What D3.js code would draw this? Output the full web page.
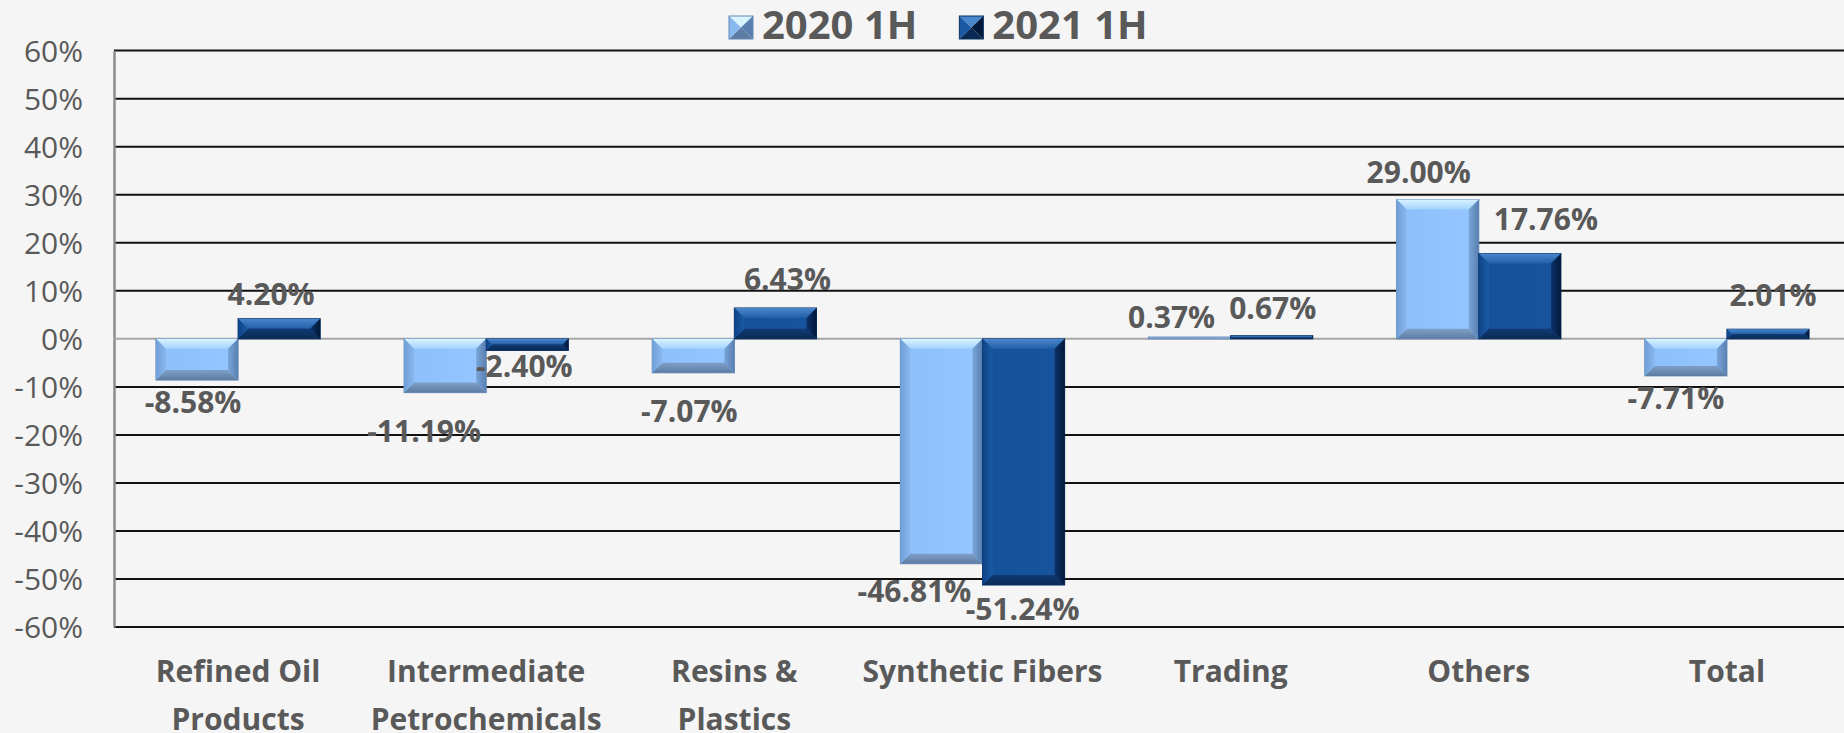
<!DOCTYPE html>
<html>
<head>
<meta charset="utf-8">
<script src="https://cdn.jsdelivr.net/npm/d3@7"></script>
<style>
  body { margin: 0; background: #f5f5f5; overflow: hidden; }
  svg { display: block; }
  text { font-family: "Open Sans", "Noto Sans", sans-serif; fill: #595959; }
</style>
</head>
<body>
<script>
// data
var categories = ["Refined Oil\nProducts", "Intermediate\nPetrochemicals", "Resins &\nPlastics",
                  "Synthetic Fibers", "Trading", "Others", "Total"];
var seriesNames = ["2020 1H", "2021 1H"];
var values2020 = [-8.58, -11.19, -7.07, -46.81, 0.37, 29.00, -7.71];
var values2021 = [4.20, -2.40, 6.43, -51.24, 0.67, 17.76, 2.01];
var yTicks = [-60, -50, -40, -30, -20, -10, 0, 10, 20, 30, 40, 50, 60];

// label nudges (pixels) so the labels sit where the original put them
var nudge2020 = [[-4, 0], [-21, 16], [-4, 16], [-27, 5], [-18, 5], [-19, -3], [-10, 0]];
var nudge2021 = [[-8, 0], [-3, -6], [12, -4], [-1, 2], [1, -3], [26, -10], [5, -9]];

var width = 1844, height = 733;
var plotLeft = 114, plotRight = 1851, plotTop = 50.6, plotBottom = 627.1;

var svg = d3.select("body").append("svg")
  .attr("width", width)
  .attr("height", height);

var defs = svg.append("defs");

// bevel colour sets for the two series
var looks = [
  {face: ["#8cbffb", "#95c6ff"], top: ["#d8f4ff", "#a3d2ff"], bottom: ["#7f9fc6", "#5c7ca4"],
   left: ["#6f9fd6", "#88b8ee"], right: ["#7aa5d8", "#587fb0"], stroke: "#6488b6"},
  {face: ["#15509a", "#18549e"], top: ["#4a86cc", "#225fa8"], bottom: ["#0f3a72", "#0a2a55"],
   left: ["#0f4388", "#1a5aa4"], right: ["#0d336a", "#03183a"], stroke: "#0b3265"}
];

function grad(id, c, vertical) {
  var g = defs.append("linearGradient").attr("id", id)
    .attr("x1", 0).attr("y1", 0)
    .attr("x2", vertical ? 0 : 1).attr("y2", vertical ? 1 : 0);
  g.append("stop").attr("offset", "0%").attr("stop-color", c[0]);
  g.append("stop").attr("offset", "100%").attr("stop-color", c[1]);
}
looks.forEach(function(l, i) {
  grad("face" + i, l.face, false);
  grad("top" + i, l.top, true);
  grad("bottom" + i, l.bottom, true);
  grad("left" + i, l.left, false);
  grad("right" + i, l.right, false);
});

var x0 = d3.scaleBand()
  .domain(d3.range(categories.length))
  .range([plotLeft, plotRight])
  .paddingInner(0.338)
  .paddingOuter(0.169);

var x1 = d3.scaleBand()
  .domain([0, 1])
  .range([0, x0.bandwidth()]);

var y = d3.scaleLinear()
  .domain([-60, 60])
  .range([plotBottom, plotTop]);

// gridlines
svg.append("g").selectAll("line")
  .data(yTicks.filter(function(d) { return d != 0; }))
  .enter().append("line")
  .attr("x1", plotLeft).attr("x2", plotRight)
  .attr("y1", function(d) { return y(d); })
  .attr("y2", function(d) { return y(d); })
  .style("stroke", "#111")
  .style("stroke-width", 2);

// y axis
var yAxis = d3.axisLeft(y)
  .tickValues(yTicks)
  .tickSize(0)
  .tickPadding(30)
  .tickFormat(function(d) { return d + "%"; });

var gy = svg.append("g")
  .attr("transform", "translate(" + plotLeft + ",0)")
  .call(yAxis);
gy.select(".domain").style("stroke", "#8c8c8c").style("stroke-width", 2.5);
gy.selectAll("text")
  .style("font-size", "30px")
  .style("fill", "#595959")
  .attr("x", -31)
  .attr("dy", "0.35em");

// zero line
svg.append("line")
  .attr("x1", plotLeft).attr("x2", plotRight)
  .attr("y1", y(0)).attr("y2", y(0))
  .style("stroke", "#a6a6a6")
  .style("stroke-width", 2);

function bevelBar(g, x, yy, w, h, s, bev) {
  var b = Math.min(bev, w / 2, h / 2);
  var look = looks[s];
  g.append("rect")
    .attr("x", x).attr("y", yy).attr("width", w).attr("height", h)
    .style("fill", "url(#face" + s + ")")
    .style("stroke", look.stroke).style("stroke-width", 1);
  if (b < 1.5) return;
  var parts = {
    top: [[x, yy], [x + w, yy], [x + w - b, yy + b], [x + b, yy + b]],
    bottom: [[x, yy + h], [x + w, yy + h], [x + w - b, yy + h - b], [x + b, yy + h - b]],
    left: [[x, yy], [x + b, yy + b], [x + b, yy + h - b], [x, yy + h]],
    right: [[x + w, yy], [x + w - b, yy + b], [x + w - b, yy + h - b], [x + w, yy + h]]
  };
  Object.keys(parts).forEach(function(k) {
    g.append("polygon")
      .attr("points", parts[k].map(function(p) { return p.join(","); }).join(" "))
      .style("fill", "url(#" + k + s + ")");
  });
}

var allSeries = [values2020, values2021];
var nudges = [nudge2020, nudge2021];
var barLayer = svg.append("g");
var labelLayer = svg.append("g");

allSeries.forEach(function(vals, s) {
  vals.forEach(function(v, i) {
    var bx = x0(i) + x1(s);
    var bw = x1.bandwidth();
    var top = y(Math.max(v, 0)), bot = y(Math.min(v, 0));
    bevelBar(barLayer.append("g"), bx, top, bw, bot - top, s, 10);

    var ly = v >= 0 ? top - 14 : bot + 33;
    labelLayer.append("text")
      .attr("x", bx + bw / 2 + nudges[s][i][0])
      .attr("y", ly + nudges[s][i][1])
      .attr("text-anchor", "middle")
      .style("font-size", "30px")
      .style("font-weight", "bold")
      .text(v.toFixed(2) + "%");
  });
});

// category labels
var catG = svg.append("g");
categories.forEach(function(c, i) {
  var t = catG.append("text")
    .attr("x", x0(i) + x0.bandwidth() / 2)
    .attr("y", 682)
    .attr("text-anchor", "middle")
    .style("font-size", "30px")
    .style("font-weight", "bold");
  c.split("\n").forEach(function(line, j) {
    t.append("tspan")
      .attr("x", x0(i) + x0.bandwidth() / 2)
      .attr("dy", j == 0 ? 0 : 48)
      .text(line);
  });
});

// legend
var legend = svg.append("g");
var lx = 729;
seriesNames.forEach(function(name, s) {
  var look = looks[s];
  var sw = 24, sh = 23, sy = 16;
  var cx = lx + sw / 2, cy = sy + sh / 2;
  var tris = [
    [[lx, sy], [lx + sw, sy], [cx, cy], look.top[0]],
    [[lx, sy + sh], [lx + sw, sy + sh], [cx, cy], look.bottom[1]],
    [[lx, sy], [lx, sy + sh], [cx, cy], look.left[1]],
    [[lx + sw, sy], [lx + sw, sy + sh], [cx, cy], look.right[1]]
  ];
  tris.forEach(function(tr) {
    legend.append("polygon")
      .attr("points", tr.slice(0, 3).map(function(p) { return p.join(","); }).join(" "))
      .style("fill", tr[3]);
  });
  legend.append("rect")
    .attr("x", lx).attr("y", sy).attr("width", sw).attr("height", sh)
    .style("fill", "none").style("stroke", look.stroke).style("stroke-width", 1);
  var txt = legend.append("text")
    .attr("x", lx + sw + 9)
    .attr("y", 39)
    .style("font-size", "40px")
    .style("font-weight", "bold")
    .text(name);
  lx = lx + sw + 9 + txt.node().getComputedTextLength() + 42;
});
</script>
</body>
</html>
